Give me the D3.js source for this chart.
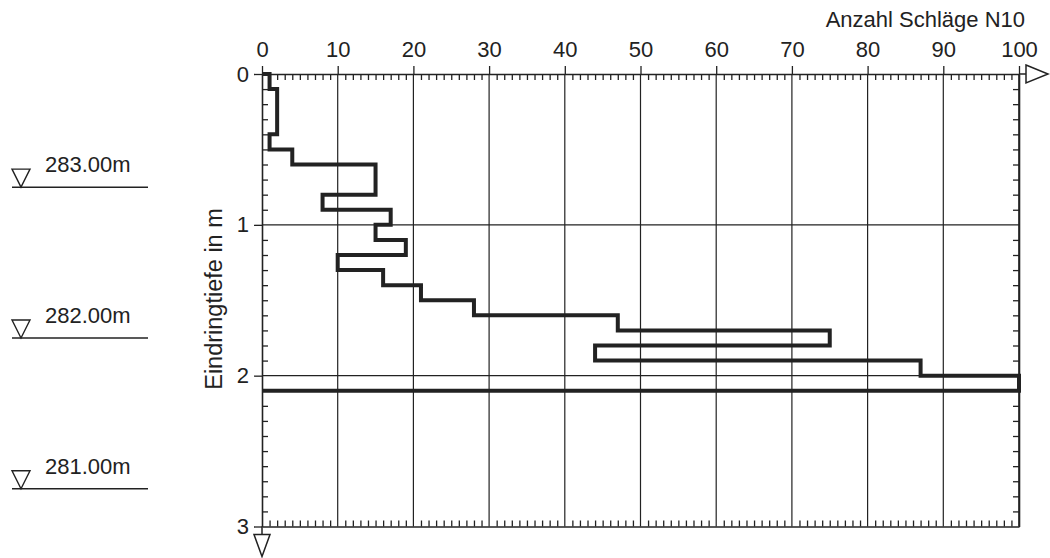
<!DOCTYPE html>
<html>
<head>
<meta charset="utf-8">
<script src="https://cdn.jsdelivr.net/npm/d3@7"></script>
<style>
  html, body { margin: 0; padding: 0; background: #fff; }
  svg { display: block; }
  text { font-family: "Liberation Sans", Arial, Helvetica, sans-serif; fill: #222; }
</style>
</head>
<body>
<svg id="chart" width="1050" height="558"></svg>
<script>
// ---- data ----
const intervalTops = [0,0.1,0.2,0.3,0.4,0.5,0.6,0.7,0.8,0.9,1.0,1.1,1.2,1.3,1.4,1.5,1.6,1.7,1.8,1.9,2.0];
const blows = [1,2,2,2,1,4,15,15,8,17,15,19,10,16,21,28,47,75,44,87,100];
const intervalSize = 0.1;
const xTicks = [0,10,20,30,40,50,60,70,80,90,100];
const yTicks = [0,1,2,3];
const elevations = [283,282,281];
const elevationLabels = ["283.00m","282.00m","281.00m"];
const groundElevation = 283.75;
const xTitle = "Anzahl Schläge N10";
const yTitle = "Eindringtiefe in m";

// ---- layout ----
const svg = d3.select("#chart");
const x = d3.scaleLinear().domain([0,100]).range([262,1019]);
const y = d3.scaleLinear().domain([0,3]).range([74,526.5]);
const ink = "#222";

// grid lines
const grid = svg.append("g");
grid.selectAll("line.v").data(xTicks.filter(d => d > 0)).join("line")
  .attr("x1", d => x(d)).attr("x2", d => x(d))
  .attr("y1", y(0)).attr("y2", y(3))
  .attr("stroke", ink).attr("stroke-width", d => d === 100 ? 1.6 : 1.2);
grid.selectAll("line.h").data(yTicks.filter(d => d > 0 && d < 3)).join("line")
  .attr("x1", x(0)).attr("x2", x(100))
  .attr("y1", d => y(d)).attr("y2", d => y(d))
  .attr("stroke", ink).attr("stroke-width", 1.1);

const minorX = d3.range(0,101).filter(d => d % 10 !== 0);
const minorY = d3.range(1,30).map(d => d/10).filter((d,i) => (i+1) % 10 !== 0);

function styleAxis(g, sw) {
  g.selectAll("path.domain").attr("stroke", ink).attr("stroke-width", sw);
  g.selectAll(".tick line").attr("stroke", ink).attr("stroke-width", 1.3);
  g.selectAll("text").attr("fill", ink).style("font-size", "22px")
    .style("font-family", '"Liberation Sans", Arial, sans-serif');
}

// top axis (major + labels)
const gTop = svg.append("g").attr("transform", `translate(0,${y(0)})`)
  .call(d3.axisTop(x).tickValues(xTicks).tickSize(8).tickSizeOuter(0).tickPadding(9).tickFormat(d3.format("d")));
styleAxis(gTop, 1.6);
// top minor
const gTopMinor = svg.append("g").attr("transform", `translate(0,${y(0)})`)
  .call(d3.axisTop(x).tickValues(minorX).tickSize(-6).tickSizeOuter(0).tickFormat(""));
gTopMinor.select("path.domain").remove();
styleAxis(gTopMinor, 1.6);

// bottom minor
const gBot = svg.append("g").attr("transform", `translate(0,${y(3)})`)
  .call(d3.axisBottom(x).tickValues(minorX).tickSize(-6).tickSizeOuter(0).tickFormat(""));
styleAxis(gBot, 1.6);

// left axis
const gLeft = svg.append("g").attr("transform", `translate(${x(0)},0)`)
  .call(d3.axisLeft(y).tickValues(yTicks).tickSize(8).tickSizeOuter(0).tickPadding(5).tickFormat(d3.format("d")));
styleAxis(gLeft, 1.6);
const gLeftMinor = svg.append("g").attr("transform", `translate(${x(0)},0)`)
  .call(d3.axisLeft(y).tickValues(minorY).tickSize(-6).tickSizeOuter(0).tickFormat(""));
gLeftMinor.select("path.domain").remove();
styleAxis(gLeftMinor, 1.6);

// right axis
const gRight = svg.append("g").attr("transform", `translate(${x(100)},0)`)
  .call(d3.axisRight(y).tickValues(minorY).tickSize(-6).tickSizeOuter(0).tickFormat(""));
styleAxis(gRight, 1.6);

// arrows
const arrows = svg.append("g").attr("fill", "#fff").attr("stroke", ink).attr("stroke-width", 1.5);
arrows.append("line").attr("x1", x(100)).attr("x2", x(100)+7).attr("y1", y(0)).attr("y2", y(0));
arrows.append("path").attr("d", `M${x(100)+7},${y(0)-9}L${x(100)+29},${y(0)}L${x(100)+7},${y(0)+9}Z`);
arrows.append("line").attr("x1", x(0)).attr("x2", x(0)).attr("y1", y(3)).attr("y2", y(3)+8);
arrows.append("path").attr("d", `M${x(0)-8},${y(3)+8}L${x(0)+8},${y(3)+8}L${x(0)},${y(3)+30}Z`);

// step line
const pts = [[0, intervalTops[0]]];
intervalTops.forEach((d, i) => { pts.push([blows[i], d]); pts.push([blows[i], d + intervalSize]); });
pts.push([0, intervalTops[intervalTops.length-1] + intervalSize]);
svg.append("path")
  .attr("d", d3.line().x(p => x(p[0])).y(p => y(p[1]))(pts))
  .attr("fill", "none").attr("stroke", ink).attr("stroke-width", 4)
  .attr("stroke-linejoin", "miter");

// titles
svg.append("text").attr("x", 1025).attr("y", 27).attr("text-anchor", "end")
  .style("font-size", "22px").text(xTitle);
svg.append("text").attr("transform", "translate(222,299) rotate(-90)")
  .attr("text-anchor", "middle").style("font-size", "23.5px").text(yTitle);

// elevation markers
const mk = svg.append("g");
elevations.forEach((e, i) => {
  const ly = y(groundElevation - e);
  mk.append("line").attr("x1", 12).attr("x2", 148).attr("y1", ly).attr("y2", ly)
    .attr("stroke", ink).attr("stroke-width", 1.5);
  mk.append("path").attr("d", `M12,${ly-18}L30,${ly-18}L21,${ly}Z`)
    .attr("fill", "none").attr("stroke", ink).attr("stroke-width", 1.4);
  mk.append("text").attr("x", 45).attr("y", ly - 15).style("font-size", "22px").text(elevationLabels[i]);
});
</script>
</body>
</html>
